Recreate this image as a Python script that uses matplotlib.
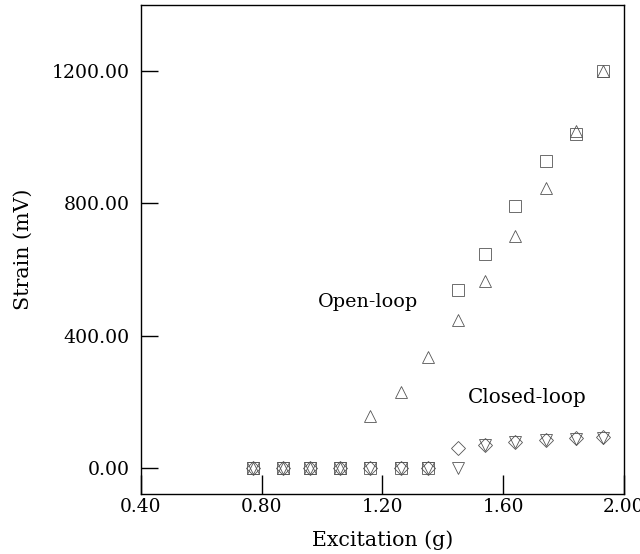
import matplotlib.pyplot as plt

plt.rcParams['font.family'] = ['DejaVu Serif']

# excitation levels (g)
exc = [0.77, 0.87, 0.96, 1.06, 1.16, 1.26, 1.35, 1.45, 1.54, 1.64, 1.74, 1.84, 1.93]

# open-loop
open_tri = [0, 0, 0, 0, 157, 229, 335, 447, 565, 700, 845, 1017, 1199]
open_sq = [0, 0, 0, 0, 0, 0, 0, 537, 646, 791, 927, 1008, 1199]
# closed-loop
closed_dia = [0, 0, 0, 0, 0, 0, 0, 60, 69, 78, 85, 90, 94]
closed_vtri = [0, 0, 0, 0, 0, 0, 0, 0, 70, 78, 84, 88, 92]

fig = plt.figure(figsize=(6.4, 5.54), dpi=100)
ax = fig.add_axes([0.2203, 0.1083, 0.7547, 0.8827])

kw = dict(linestyle='none', markerfacecolor='none', markersize=8,
          markeredgewidth=0.6, markeredgecolor='#555555')
ax.plot(exc, open_sq, marker='s', **kw)
ax.plot(exc, open_tri, marker='^', **kw)
ax.plot(exc, closed_dia, marker='D', **dict(kw, markersize=7))
ax.plot(exc, closed_vtri, marker='v', **kw)

ax.set_xlim(0.4, 2.0)
ax.set_ylim(-78, 1398)
ax.set_xticks([0.4, 0.8, 1.2, 1.6, 2.0])
ax.set_xticklabels(['0.40', '0.80', '1.20', '1.60', '2.00'])
ax.set_yticks([0, 400, 800, 1200])
ax.set_yticklabels(['0.00', '400.00', '800.00', '1200.00'])
ax.tick_params(axis='x', direction='in', length=14, width=1, labelsize=13.4, pad=3)
ax.tick_params(axis='y', direction='in', length=12, width=1, labelsize=13.6, pad=8)

for s in ax.spines.values():
    s.set_linewidth(1)

ax.text(0.986, 501, 'Open-loop', fontsize=13.8, va='center')
ax.text(1.483, 214, 'Closed-loop', fontsize=14.4, va='center')

ax.set_xlabel('Excitation (g)', fontsize=14.8, labelpad=10)
ax.set_ylabel('Strain (mV)', fontsize=14.8, labelpad=14)

fig.savefig('out.png', dpi=100)
